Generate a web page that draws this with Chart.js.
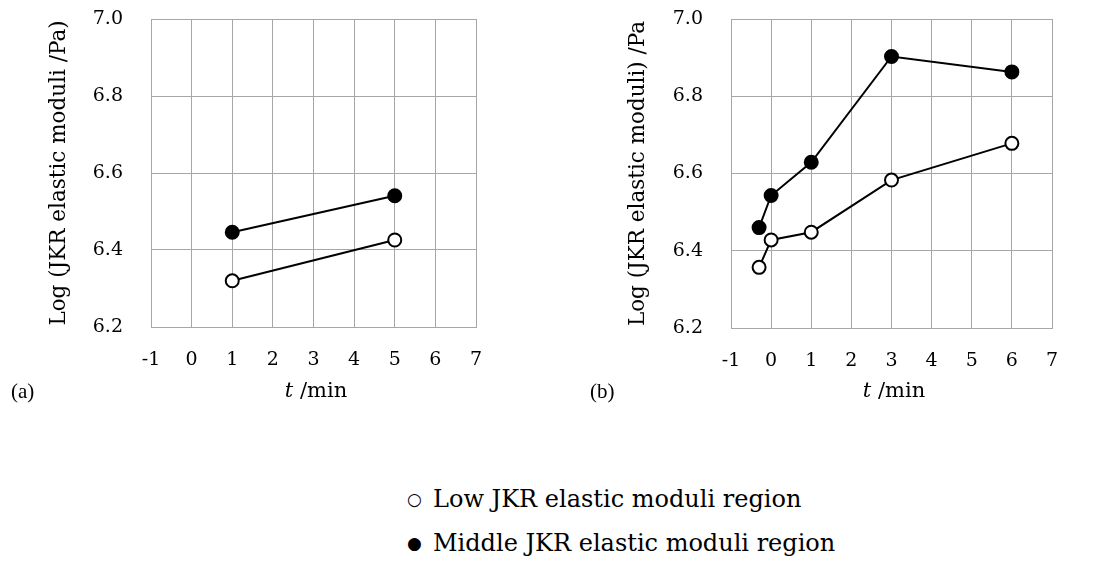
<!DOCTYPE html>
<html>
<head>
<meta charset="utf-8">
<script src="https://cdn.jsdelivr.net/npm/chart.js@4/dist/chart.umd.min.js"></script>
<style>
  html, body { margin: 0; padding: 0; background: #fff; }
  body { width: 1105px; height: 562px; position: relative; overflow: hidden; font-family: "DejaVu Serif", serif; color: #000; }
  .box { position: absolute; top: 0; height: 400px; }
  .txt { position: absolute; white-space: nowrap; line-height: 1; }
  .panel { font-family: "Liberation Serif", serif; font-size: 21px; }
  .xtitle { font-size: 21px; transform: translateX(-50%); }
  .legend { font-size: 24px; }
  .legend .mk { font-size: 17px; display: inline-block; width: 26px; vertical-align: 2px; }
</style>
</head>
<body>
<div class="box" style="left:0;width:500px"><canvas id="chartA"></canvas></div>
<div class="box" style="left:560px;width:545px"><canvas id="chartB"></canvas></div>

<div class="txt panel" style="left:11px;top:381px">(a)</div>
<div class="txt panel" style="left:590px;top:381px">(b)</div>
<div class="txt xtitle" style="left:316px;top:380px"><i>t</i> /min</div>
<div class="txt xtitle" style="left:894px;top:380px"><i>t</i> /min</div>

<div class="txt legend" style="left:407px;top:487px"><span class="mk">○</span>Low JKR elastic moduli region</div>
<div class="txt legend" style="left:407px;top:531px"><span class="mk">●</span>Middle JKR elastic moduli region</div>

<script>
// time axis (min) and Log(modulus) values for each panel
const xRange = [-1, 7];
const yRange = [6.2, 7.0];

const tA = [1, 5];
const lowA = [6.320, 6.426];
const midA = [6.446, 6.541];

const tB = [-0.3, 0, 1, 3, 6];
const lowB = [6.357, 6.428, 6.448, 6.583, 6.678];
const midB = [6.460, 6.543, 6.629, 6.903, 6.863];

const yTitleA = 'Log (JKR elastic moduli /Pa)';
const yTitleB = 'Log (JKR elastic moduli) /Pa';

const gridColor = '#a6a6a6';
const tickFont = { family: '"DejaVu Serif", serif', size: 19 };
const titleFont = { family: '"DejaVu Serif", serif', size: 21.5 };

function pts(xs, ys) {
    return xs.map((x, i) => ({ x: x, y: ys[i] }));
}

function series(data, fill) {
    return {
        data: data, showLine: true,
        borderColor: '#000', borderWidth: 2,
        pointRadius: 6.5, pointHoverRadius: 6.5, pointBorderWidth: 2,
        pointBorderColor: '#000', pointBackgroundColor: fill
    };
}

// fixed axis boxes so the plot area lands where it should; drop label overhang padding
function fixBox(prop, size) {
    return s => {
        s[prop] = size;
        s.paddingTop = s.paddingBottom = s.paddingLeft = s.paddingRight = 0;
    };
}

// g: yw = width of y axis box, xh = height of x axis box, pad = layout padding, tp = y title offset
function makeChart(id, xs, low, mid, yTitle, g) {
    return new Chart(document.getElementById(id), {
        type: 'scatter',
        data: { datasets: [ series(pts(xs, low), '#fff'), series(pts(xs, mid), '#000') ] },
        options: {
            responsive: true, maintainAspectRatio: false, animation: false,
            layout: { padding: g.pad },
            plugins: { legend: { display: false }, tooltip: { enabled: false } },
            scales: {
                x: {
                    type: 'linear', min: xRange[0], max: xRange[1],
                    afterFit: fixBox('height', g.xh),
                    ticks: { stepSize: 1, color: '#000', font: tickFont, padding: 22, maxRotation: 0 },
                    grid: { color: gridColor, lineWidth: 1, drawTicks: false },
                    border: { color: gridColor, width: 1 }
                },
                y: {
                    min: yRange[0], max: yRange[1],
                    afterFit: fixBox('width', g.yw),
                    ticks: { stepSize: 0.2, color: '#000', font: tickFont, padding: 28, callback: v => v.toFixed(1) },
                    grid: { color: gridColor, lineWidth: 1, drawTicks: false },
                    border: { color: gridColor, width: 1 },
                    title: { display: true, text: yTitle, color: '#000', font: titleFont, padding: { top: g.tp, bottom: 0 } }
                }
            }
        }
    });
}

makeChart('chartA', tA, lowA, midA, yTitleA, { yw: 151, xh: 73, pad: { top: 19, right: 24, left: 0, bottom: 0 }, tp: 47 });
makeChart('chartB', tB, lowB, midB, yTitleB, { yw: 171, xh: 72, pad: { top: 19, right: 53, left: 0, bottom: 0 }, tp: 66 });
</script>
</body>
</html>
